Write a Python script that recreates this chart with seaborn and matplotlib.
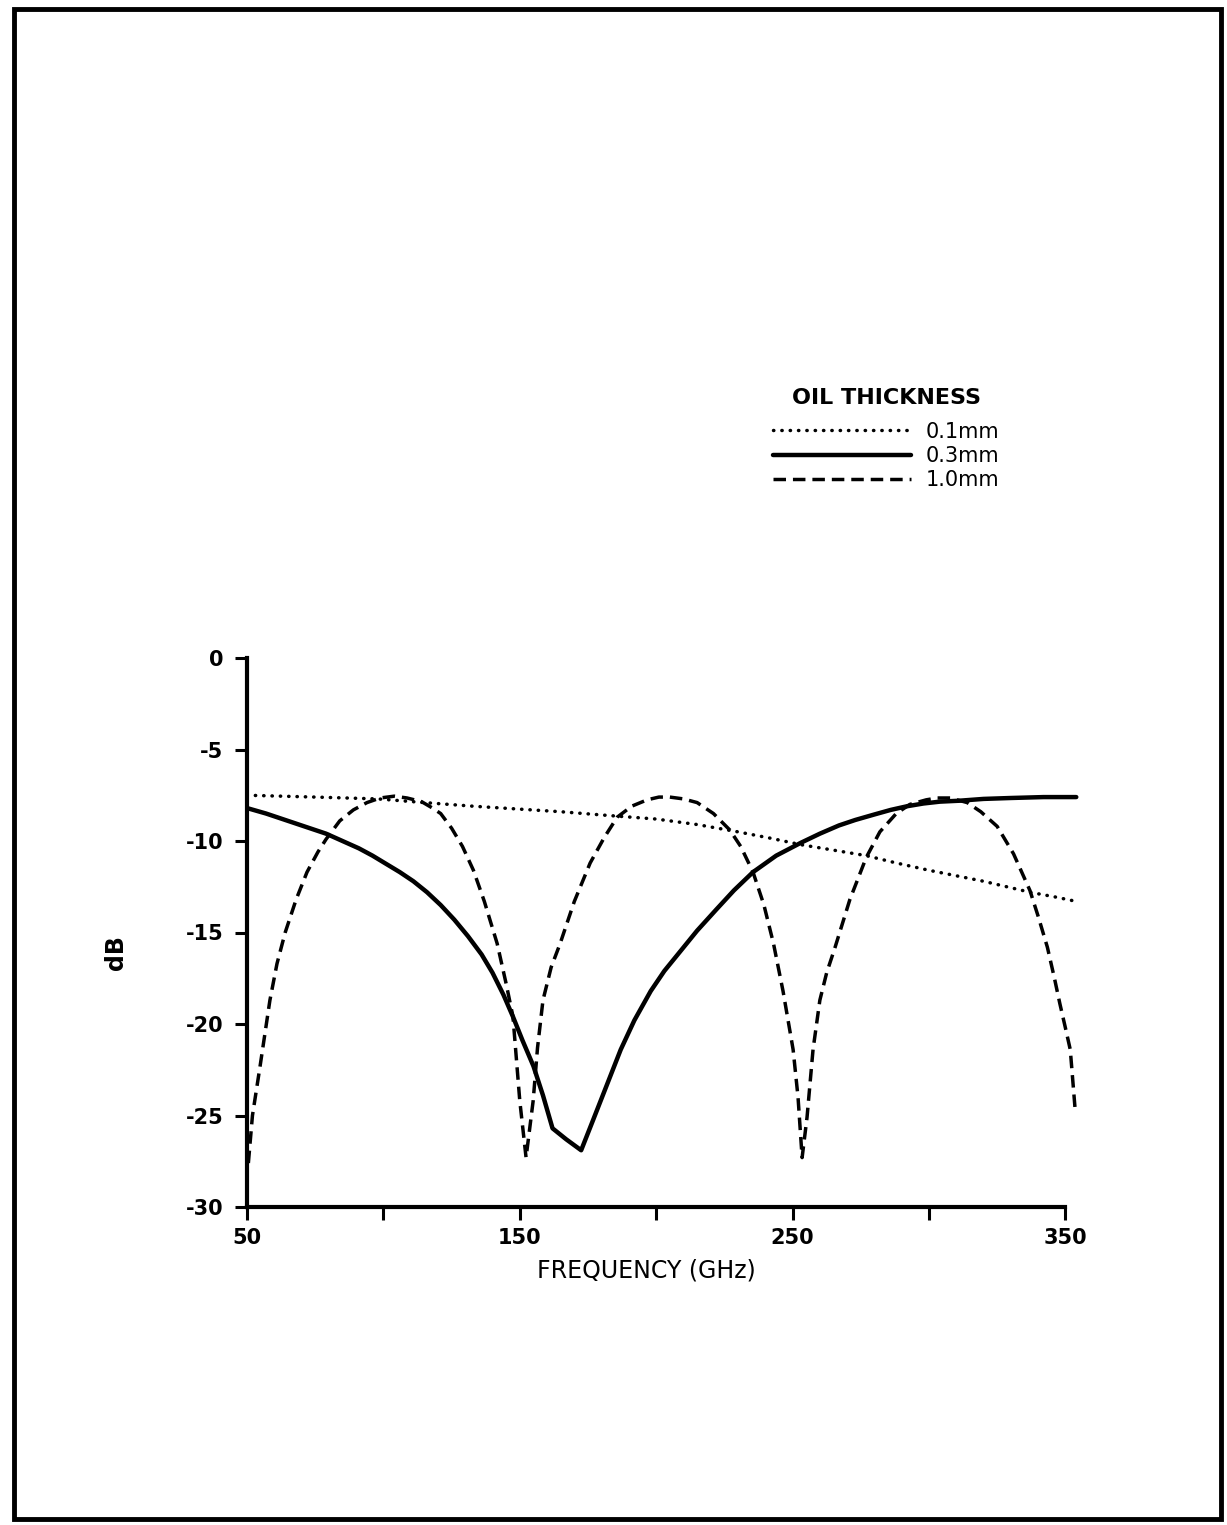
import numpy as np
import pandas as pd
import matplotlib
matplotlib.use("Agg")
import matplotlib.pyplot as plt
import seaborn as sns
from matplotlib.patches import Rectangle
from matplotlib.ticker import FixedLocator

# Reflection loss vs. frequency for three oil-film thicknesses
freq_01 = [50, 75, 98, 115, 133, 165, 182, 200, 215, 230, 242, 253, 265, 277, 288,
           300, 310, 320, 337, 346, 354]
db_01 = [-7.5, -7.6, -7.7, -7.9, -8.1, -8.4, -8.6, -8.8, -9.1, -9.5, -9.85, -10.2,
         -10.5, -10.8, -11.2, -11.6, -11.9, -12.2, -12.8, -13.05, -13.3]

freq_03 = [50, 57, 65, 72, 79, 85, 91, 96, 101, 106, 111, 116, 121, 126, 131, 136,
           140, 144, 147.5, 151, 155, 158.5, 162, 167, 172.5, 177, 182, 187, 192, 198,
           203, 209, 215, 222, 228.5, 235.5, 244, 253, 260, 267, 273, 280, 286, 292,
           298, 304, 311, 320, 330, 342, 354]
db_03 = [-8.2, -8.5, -8.9, -9.25, -9.6, -10.0, -10.4, -10.8, -11.25, -11.7, -12.2,
         -12.8, -13.5, -14.3, -15.2, -16.2, -17.2, -18.4, -19.6, -20.9, -22.3, -23.9,
         -25.7, -26.3, -26.9, -25.2, -23.3, -21.4, -19.8, -18.2, -17.1, -16.0, -14.9,
         -13.75, -12.7, -11.7, -10.8, -10.1, -9.6, -9.15, -8.85, -8.55, -8.3, -8.1,
         -7.95, -7.85, -7.8, -7.7, -7.65, -7.6, -7.6]

freq_10 = [50.5, 52, 54.8, 58.4, 61, 64, 68, 72, 76, 79, 84, 89, 94, 98.8, 104, 108.7,
           114, 118, 121, 125, 129, 133, 137, 141.7, 145, 147.5, 150, 152.3,
           154.9, 156.5, 158.5, 161.5, 164.8, 170, 175.8, 181, 185.7, 191, 196.7, 201,
           205, 210, 215, 221, 227, 231, 235.5, 239.5, 243, 246.5, 250.2, 252, 253.5,
           255.3, 257.5, 260, 262.5, 265.6, 271, 277, 282, 288, 293, 299, 303, 307.8,
           314, 319, 325, 331, 337, 340, 343.4, 346, 348, 350, 351.8, 353.6]
db_10 = [-27.6, -25.0, -22.3, -18.7, -16.7, -15.0, -13.2, -11.7, -10.6, -9.9, -8.9,
         -8.3, -7.9, -7.65, -7.55, -7.65, -7.85, -8.2, -8.5, -9.3, -10.3, -11.6, -13.3,
         -15.6, -17.8, -19.6, -24.2, -27.3,
         -24.2, -21.3, -18.7, -16.9, -15.6, -13.3, -11.2, -9.8, -8.7, -8.1, -7.75, -7.6,
         -7.6, -7.7, -7.9, -8.5, -9.4, -10.3, -11.7, -13.5, -15.6, -18.2, -21.4, -24.0,
         -27.3, -25.1, -21.4, -18.7, -17.2, -15.8, -13.2, -10.9, -9.5, -8.5, -8.0, -7.75,
         -7.65, -7.65, -7.9, -8.4, -9.2, -10.7, -12.7, -14.1, -15.8, -17.5, -18.9, -20.2,
         -21.4, -24.7]

labels = ["0.1mm", "0.3mm", "1.0mm"]
x_major = [50, 150, 250, 350]
x_minor = [100, 200, 300]
y_ticks = [0, -5, -10, -15, -20, -25, -30]

df = pd.concat([
    pd.DataFrame({"freq": freq_01, "db": db_01, "thickness": labels[0]}),
    pd.DataFrame({"freq": freq_03, "db": db_03, "thickness": labels[1]}),
    pd.DataFrame({"freq": freq_10, "db": db_10, "thickness": labels[2]}),
], ignore_index=True)

sns.set_theme(style="white")
plt.rcParams["font.family"] = ["DejaVu Sans"]
plt.rcParams["axes.unicode_minus"] = False
plt.rcParams["text.color"] = "black"
plt.rcParams["axes.labelcolor"] = "black"

W, H = 1227, 1525
fig = plt.figure(figsize=(W / 100, H / 100), dpi=100)
fig.patch.set_facecolor("white")
ax = fig.add_axes([247 / W, 1 - 1207 / H, (1079 - 247) / W, (1207 - 658) / H])

sns.lineplot(
    data=df, x="freq", y="db", style="thickness", size="thickness",
    dashes={labels[0]: (0.1, 2.3), labels[1]: "", labels[2]: (3.6, 2.0)},
    sizes={labels[0]: 2.5, labels[1]: 3.2, labels[2]: 2.5},
    color="black", estimator=None, legend=False, ax=ax,
)
for ln in ax.lines:
    ln.set_dash_capstyle("round")
    ln.set_solid_joinstyle("round")
    ln.set_dash_joinstyle("round")
ax.lines[2].set_dash_capstyle("butt")

ax.set_xlim(50, 355)
ax.set_ylim(-30, 0)
ax.set_facecolor("none")
for s in ["top", "right"]:
    ax.spines[s].set_visible(False)
for s in ["left", "bottom"]:
    ax.spines[s].set_linewidth(3)
    ax.spines[s].set_color("black")
ax.spines["bottom"].set_bounds(50, 350)
ax.spines["left"].set_bounds(-30, 0)

ax.xaxis.set_major_locator(FixedLocator(x_major))
ax.xaxis.set_minor_locator(FixedLocator(x_minor))
ax.set_xticklabels([str(v) for v in x_major])
ax.set_yticks(y_ticks)
ax.set_yticklabels([str(v) for v in y_ticks])
ax.tick_params(which="both", direction="out", length=9, width=2.2, colors="black",
               bottom=True, left=True)
ax.tick_params(axis="x", pad=6)
ax.tick_params(axis="y", pad=8)
for t in ax.get_xticklabels() + ax.get_yticklabels():
    t.set_fontsize(15)
    t.set_fontweight("bold")

ax.set_xlabel("FREQUENCY (GHz)", fontsize=17, color="black")
ax.xaxis.set_label_coords(0.48, -0.093)
ax.set_ylabel("dB", fontsize=17, fontweight="bold", color="black")
ax.yaxis.set_label_coords(-0.143, 0.463)

leg = ax.legend(
    handles=ax.lines[:3], labels=labels, title="OIL THICKNESS",
    loc="center", bbox_to_anchor=(886 / W, 1 - 439 / H), bbox_transform=fig.transFigure,
    frameon=False, fontsize=15, handlelength=6.6, handletextpad=0.7,
    labelspacing=0.2, borderpad=0, labelcolor="black",
    title_fontproperties={"weight": "bold", "size": 16},
)
leg.get_title().set_color("black")
leg._legend_box.sep = 10

# page frame
fig.patches.append(Rectangle((14 / W, 1 - 1519 / H), (1221 - 14) / W, (1519 - 9) / H,
                             transform=fig.transFigure, fill=False, lw=3.5, ec="black"))

fig.savefig("out.png", dpi=100, facecolor="white")
